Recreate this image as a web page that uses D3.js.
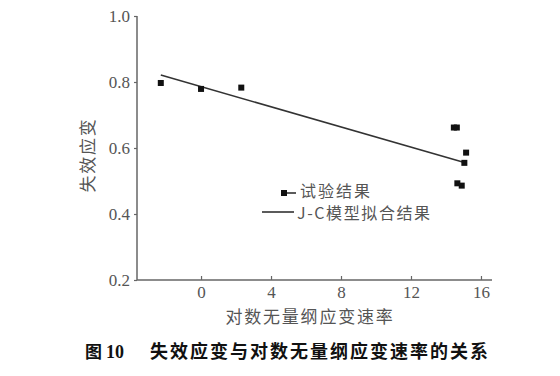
<!DOCTYPE html>
<html lang="zh">
<head>
<meta charset="UTF-8">
<title>失效应变与对数无量纲应变速率的关系</title>
<script src="https://d3js.org/d3.v7.min.js"></script>
<style>
  body { margin: 0; background: #fff; }
  .tick text { font-family: "Liberation Serif", "DejaVu Serif", serif; font-size: 17px; fill: #555; }
  .cn { font-family: "Noto Sans CJK SC", sans-serif; fill: #555; }
</style>
</head>
<body>
<div id="chart"></div>
<script>
// test data
const rateLog = [-2.3, 0, 2.3, 14.45, 14.62, 15.15, 15.05, 14.65, 14.9];
const failStrain = [0.797, 0.779, 0.783, 0.662, 0.662, 0.586, 0.555, 0.493, 0.486];
// J-C fit line end points
const fitX = [-2.3, 15.05];
const fitY = [0.821, 0.556];
const xTicks = [0, 4, 8, 12, 16];
const yTicks = [0.2, 0.4, 0.6, 0.8, 1.0];

const W = 560, H = 376;
const svg = d3.select("#chart").append("svg")
    .attr("width", W).attr("height", H);

const x = d3.scaleLinear().domain([-3.66, 16.63]).range([137, 492]);
const y = d3.scaleLinear().domain([0.2, 1.0]).range([280, 16]);

const axisColor = "#666";

// x axis
const gx = svg.append("g").attr("transform", "translate(0,280)")
    .call(d3.axisBottom(x).tickValues(xTicks).tickFormat(d3.format("d")).tickSize(-4).tickPadding(6));
gx.select(".domain").attr("stroke", axisColor).attr("stroke-width", 1.5)
    .attr("d", `M${x.range()[0]},0H${x.range()[1]}`);
gx.selectAll(".tick line").attr("stroke", axisColor).attr("stroke-width", 1.2);

// y axis
const gy = svg.append("g").attr("transform", "translate(137,0)")
    .call(d3.axisLeft(y).tickValues(yTicks).tickFormat(d3.format(".1f")).tickSize(3).tickPadding(4));
gy.select(".domain").attr("stroke", axisColor).attr("stroke-width", 1.5)
    .attr("d", `M0,${y.range()[1]}V${y.range()[0]}`);
gy.selectAll(".tick line").attr("stroke", axisColor).attr("stroke-width", 1.2);
gy.selectAll(".tick text").attr("dy", "0.35em");

// axis titles
svg.append("text").attr("class", "cn")
    .attr("x", 310).attr("y", 322.5).attr("text-anchor", "middle")
    .attr("font-size", 17).attr("letter-spacing", 1.8)
    .text("对数无量纲应变速率");

svg.append("text").attr("class", "cn")
    .attr("transform", "translate(94,155) rotate(-90)")
    .attr("text-anchor", "middle")
    .attr("font-size", 17).attr("letter-spacing", 1.8)
    .text("失效应变");

// fit line
const fitData = fitX.map((d, i) => [d, fitY[i]]);
svg.append("path")
    .datum(fitData)
    .attr("fill", "none").attr("stroke", "#333").attr("stroke-width", 1.6)
    .attr("d", d3.line().x(d => x(d[0])).y(d => y(d[1])));

// test points
const pts = rateLog.map((d, i) => ({ x: d, y: failStrain[i] }));
const s = 6;
svg.selectAll(".pt").data(pts).enter().append("rect")
    .attr("class", "pt")
    .attr("x", d => x(d.x) - s / 2).attr("y", d => y(d.y) - s / 2)
    .attr("width", s).attr("height", s)
    .attr("fill", "#111");

// legend
const lg = svg.append("g");
lg.append("line").attr("x1", 284).attr("x2", 296).attr("y1", 193).attr("y2", 193)
    .attr("stroke", "#333").attr("stroke-width", 1.6);
lg.append("rect").attr("x", 281).attr("y", 190).attr("width", s).attr("height", s).attr("fill", "#111");
lg.append("text").attr("class", "cn").attr("x", 300).attr("y", 197)
    .attr("font-size", 16).attr("letter-spacing", 2).text("试验结果");
lg.append("line").attr("x1", 262).attr("x2", 294).attr("y1", 212).attr("y2", 212)
    .attr("stroke", "#333").attr("stroke-width", 1.6);
lg.append("text").attr("class", "cn").attr("x", 297).attr("y", 219)
    .attr("font-size", 16).attr("letter-spacing", 1.6).text("J-C模型拟合结果");

// caption
const cap = svg.append("g").attr("fill", "#111").attr("font-weight", "bold");
cap.append("text")
    .attr("x", 85).attr("y", 358)
    .attr("font-family", "'Noto Sans CJK SC', sans-serif")
    .attr("font-size", 17)
    .text("图");
cap.append("text")
    .attr("x", 106).attr("y", 358)
    .attr("font-family", "'Liberation Serif', serif")
    .attr("font-size", 18)
    .text("10");
cap.append("text")
    .attr("x", 150).attr("y", 358)
    .attr("font-family", "'Noto Sans CJK SC', sans-serif")
    .attr("font-size", 18).attr("letter-spacing", 2)
    .text("失效应变与对数无量纲应变速率的关系");
</script>
</body>
</html>
